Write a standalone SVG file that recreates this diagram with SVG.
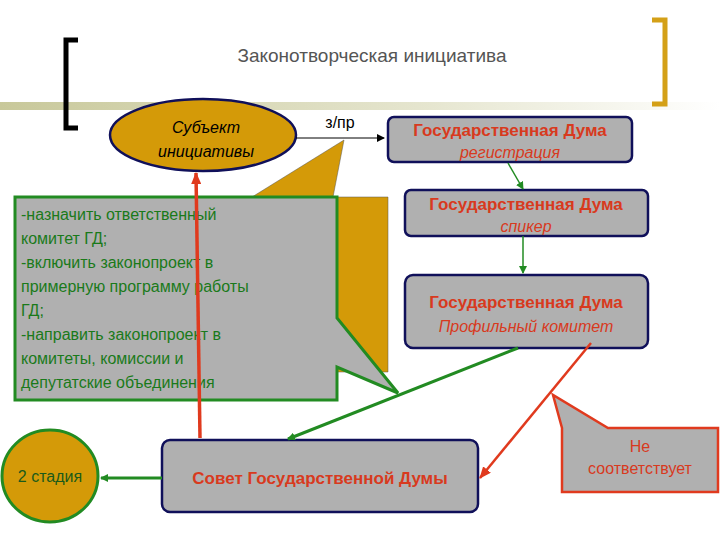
<svg xmlns="http://www.w3.org/2000/svg" width="720" height="540" viewBox="0 0 720 540">
<defs>
<linearGradient id="band" x1="0" x2="1"><stop offset="0" stop-color="#c8c89a"/><stop offset="0.6" stop-color="#e6e6d0"/><stop offset="1" stop-color="#ffffff"/></linearGradient>
<marker id="ag" markerWidth="8" markerHeight="8" refX="7" refY="4" orient="auto" markerUnits="userSpaceOnUse"><path d="M0,0L8,4L0,8z" fill="#228b22"/></marker>
<marker id="ar" markerWidth="12" markerHeight="10" refX="11" refY="5" orient="auto" markerUnits="userSpaceOnUse"><path d="M0,0L12,5L0,10z" fill="#e03a1e"/></marker>
<marker id="ak" markerWidth="8" markerHeight="8" refX="7" refY="4" orient="auto" markerUnits="userSpaceOnUse"><path d="M0,0L8,4L0,8z" fill="#000"/></marker>
<style>
text{font-family:"Liberation Sans",Arial,sans-serif}
.box{fill:#b0b0b0;stroke:#10105a;stroke-width:2.5}
.dh{fill:#d83a1e;font-size:17px;font-weight:bold;text-anchor:middle}
.di{fill:#d83a1e;font-size:16px;font-style:italic;text-anchor:middle}
.gt{fill:#1a7a1a;font-size:16px}
</style>
</defs>
<rect x="0" y="102" width="720" height="8" fill="url(#band)"/>
<path d="M78,40H66V128H78" fill="none" stroke="#000" stroke-width="5"/>
<path d="M652,20H665V104H652" fill="none" stroke="#d4a017" stroke-width="5"/>
<text x="372" y="62" font-size="19" fill="#555" text-anchor="middle">Законотворческая инициатива</text>
<g id="gold-callout"><path d="M252,197L344,140L333,197H388V372H195V197Z" fill="#d49a08" stroke="#555" stroke-width="0.5"/></g>
<g id="subject"><ellipse cx="203" cy="135" rx="93" ry="36" fill="#d49a08" stroke="#10105a" stroke-width="2.5"/>
<text x="206" y="133" font-size="16" font-style="italic" text-anchor="middle">Субъект</text>
<text x="206" y="157" font-size="16" font-style="italic" text-anchor="middle">инициативы</text></g>
<g id="reg"><rect class="box" x="388" y="117" width="244" height="45" rx="6"/><text class="dh" x="510" y="136">Государственная Дума</text><text class="di" x="510" y="158">регистрация</text></g>
<g id="speaker"><rect class="box" x="405" y="190" width="243" height="46" rx="6"/><text class="dh" x="526" y="210">Государственная Дума</text><text class="di" x="526" y="232">спикер</text></g>
<g id="profile"><rect class="box" x="405" y="275" width="243" height="73" rx="8"/><text class="dh" x="526" y="308">Государственная Дума</text><text class="di" x="526" y="332">Профильный комитет</text></g>
<g id="green-callout"><path d="M15,197H337V318L398,393L337,367V400H15Z" fill="#b0b0b0" stroke="#228b22" stroke-width="3"/>
<text class="gt" x="21" y="220">-назначить ответственный</text>
<text class="gt" x="21" y="244">комитет ГД;</text>
<text class="gt" x="21" y="268">-включить законопроект в</text>
<text class="gt" x="21" y="292">примерную программу работы</text>
<text class="gt" x="21" y="316">ГД;</text>
<text class="gt" x="21" y="340">-направить законопроект в</text>
<text class="gt" x="21" y="364">комитеты, комиссии и</text>
<text class="gt" x="21" y="388">депутатские объединения</text></g>
<g id="council"><rect class="box" x="162" y="440" width="316" height="72" rx="8"/><text class="dh" x="320" y="484">Совет Государственной Думы</text></g>
<g id="stage2"><ellipse cx="50" cy="476" rx="48" ry="46" fill="#d49a08" stroke="#228b22" stroke-width="3"/><text x="50" y="482" font-size="16" fill="#1a5a1a" text-anchor="middle">2 стадия</text></g>
<g id="nomatch"><path d="M562,428L553,395L608,428H718V492H562Z" fill="#b0b0b0" stroke="#e03a1e" stroke-width="2.5"/>
<text x="640" y="452" font-size="16" fill="#d83a1e" text-anchor="middle">Не</text>
<text x="640" y="474" font-size="16" fill="#d83a1e" text-anchor="middle">соответствует</text></g>
<g id="connectors" fill="none">
<path d="M296,138H384" stroke="#000" stroke-width="1" marker-end="url(#ak)"/>
<text x="340" y="128" font-size="16" text-anchor="middle" fill="#000">з/пр</text>
<path d="M508,163L523,189" stroke="#228b22" stroke-width="1.5" marker-end="url(#ag)"/>
<path d="M523,236V273" stroke="#228b22" stroke-width="1.5" marker-end="url(#ag)"/>
<path d="M518,348L288,439" stroke="#228b22" stroke-width="3" marker-end="url(#ag)"/>
<path d="M162,478H101" stroke="#228b22" stroke-width="3" marker-end="url(#ag)"/>
<path d="M200,438L196,173" stroke="#e03a1e" stroke-width="3.5" marker-end="url(#ar)"/>
<path d="M591,343L480,478" stroke="#e03a1e" stroke-width="2.5" marker-end="url(#ar)"/>
</g>
</svg>
